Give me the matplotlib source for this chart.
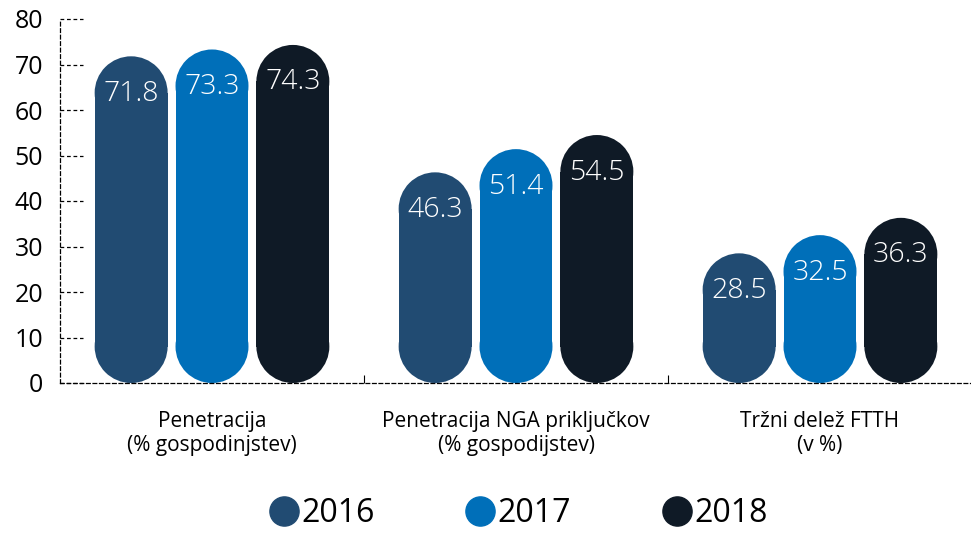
import matplotlib.pyplot as plt
from matplotlib.patches import Rectangle, Ellipse
from matplotlib.lines import Line2D

plt.rcParams['font.family'] = ['Open Sans', 'DejaVu Sans']

categories = ['Penetracija\n(% gospodinjstev)',
              'Penetracija NGA priključkov\n(% gospodijstev)',
              'Tržni delež FTTH\n(v %)']
years = ['2016', '2017', '2018']
values = {
    '2016': [71.8, 46.3, 28.5],
    '2017': [73.3, 51.4, 32.5],
    '2018': [74.3, 54.5, 36.3],
}
colors = ['#214B72', '#006FB9', '#0F1A26']
yticks = [0, 10, 20, 30, 40, 50, 60, 70, 80]

W, H = 971, 533
fig = plt.figure(figsize=(W / 100, H / 100), dpi=100)
ax_l, ax_b, ax_w, ax_h = 60, 150, 912, 364
ax = fig.add_axes([ax_l / W, ax_b / H, ax_w / W, ax_h / H])
ax.set_xlim(0, 3)
ax.set_ylim(0, 80)

bar_w = 0.24
step = 0.266
hw = bar_w / 2
# vertical radius in data units so the ends are true half-circles on screen
ry = hw * (ax_w / 3) / (ax_h / 80)

for j, yr in enumerate(years):
    for i, v in enumerate(values[yr]):
        x = i + 0.5 + (j - 1) * step
        c = colors[j]
        ax.add_patch(Rectangle((x - hw, ry), bar_w, v - 2 * ry, color=c, lw=0, clip_on=False))
        ax.add_patch(Ellipse((x, ry), bar_w, 2 * ry, color=c, lw=0, clip_on=False))
        ax.add_patch(Ellipse((x, v - ry), bar_w, 2 * ry, color=c, lw=0, clip_on=False))
        ax.annotate(f'{v:.1f}', (x, v), xytext=(0, -27), textcoords='offset points',
                    ha='center', va='center', color='white', fontsize=20.5,
                    fontweight='light', zorder=5)

# short dashed tick lines
for t in yticks:
    ax.plot([0, 0.075], [t, t], color='black', lw=0.9, ls=(0, (3, 2.2)),
            clip_on=False, zorder=0)

for s in ['top', 'right']:
    ax.spines[s].set_visible(False)
for s in ['left', 'bottom']:
    ax.spines[s].set_linestyle((0, (3, 2.2)))
    ax.spines[s].set_linewidth(0.9)

ax.set_yticks(yticks)
ax.tick_params(axis='y', length=0, pad=12, labelsize=18)
ax.set_xticks([1, 2])
ax.set_xticklabels(['', ''])
ax.tick_params(axis='x', which='major', direction='in', length=6, width=0.8)
ax.set_xticks([0.5, 1.5, 2.5], minor=True)
ax.set_xticklabels(categories, minor=True, fontsize=15, linespacing=1.2)
ax.tick_params(axis='x', which='minor', length=0, pad=20)

handles = [Line2D([], [], marker='o', ls='', markersize=21, color=c) for c in colors]
fig.legend(handles, years, loc='center', bbox_to_anchor=(517 / W, 1 - 514 / H),
           ncol=3, frameon=False, fontsize=23, handletextpad=0.0,
           columnspacing=2.75, handlelength=1.1)

fig.savefig('out.png', dpi=100)
